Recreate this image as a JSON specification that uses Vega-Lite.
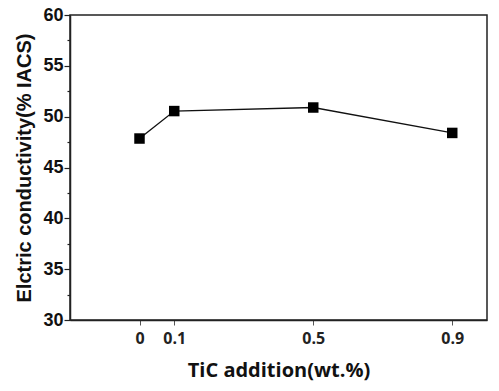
{
  "$schema": "https://vega.github.io/schema/vega-lite/v6.json",
  "autosize": "none",
  "width": 417,
  "height": 305,
  "padding": {"left": 70, "top": 15, "right": 12, "bottom": 71},
  "background": "white",
  "config": {
    "view": {"stroke": "#222", "strokeWidth": 1.5},
    "axis": {"grid": false, "domainColor": "#222", "domainWidth": 1.5, "tickColor": "#222"}
  },
  "data": {"values": [
    {"tic": 0, "ec": 47.85},
    {"tic": 0.1, "ec": 50.55},
    {"tic": 0.5, "ec": 50.9},
    {"tic": 0.9, "ec": 48.4}
  ]},
  "encoding": {
    "x": {"field": "tic", "type": "quantitative",
      "scale": {"domain": [-0.2, 1.0], "nice": false, "zero": false},
      "axis": {"values": [0, 0.1, 0.5, 0.9], "format": "~g", "title": "TiC addition(wt.%)",
        "labelFont": "Open Sans", "labelFontWeight": "bold", "labelFontSize": 16, "labelColor": "#222",
        "labelPadding": 5, "tickSize": 5, "tickColor": "#555",
        "titleFont": "Open Sans", "titleFontWeight": "bold", "titleFontSize": 20, "titleColor": "#111", "titlePadding": 14}},
    "y": {"field": "ec", "type": "quantitative",
      "scale": {"domain": [30, 60], "nice": false, "zero": false},
      "axis": {"values": [30, 32.5, 35, 37.5, 40, 42.5, 45, 47.5, 50, 52.5, 55, 57.5, 60],
        "labelExpr": "datum.value % 5 === 0 ? datum.label : ''",
        "tickSize": {"condition": {"test": "datum.value % 5 === 0", "value": 6}, "value": 3},
        "tickWidth": 1.2,
        "title": "Elctric conductivity(% IACS)",
        "labelFont": "Liberation Sans", "labelFontWeight": "bold", "labelFontSize": 18, "labelColor": "#111",
        "labelPadding": 1,
        "titleFont": "Liberation Sans", "titleFontWeight": "bold", "titleFontSize": 20, "titleColor": "#111", "titlePadding": 8}}
  },
  "layer": [
    {"mark": {"type": "line", "color": "#111", "strokeWidth": 1.4}},
    {"mark": {"type": "point", "shape": "square", "filled": true, "color": "#000", "size": 110, "opacity": 1}}
  ]
}
